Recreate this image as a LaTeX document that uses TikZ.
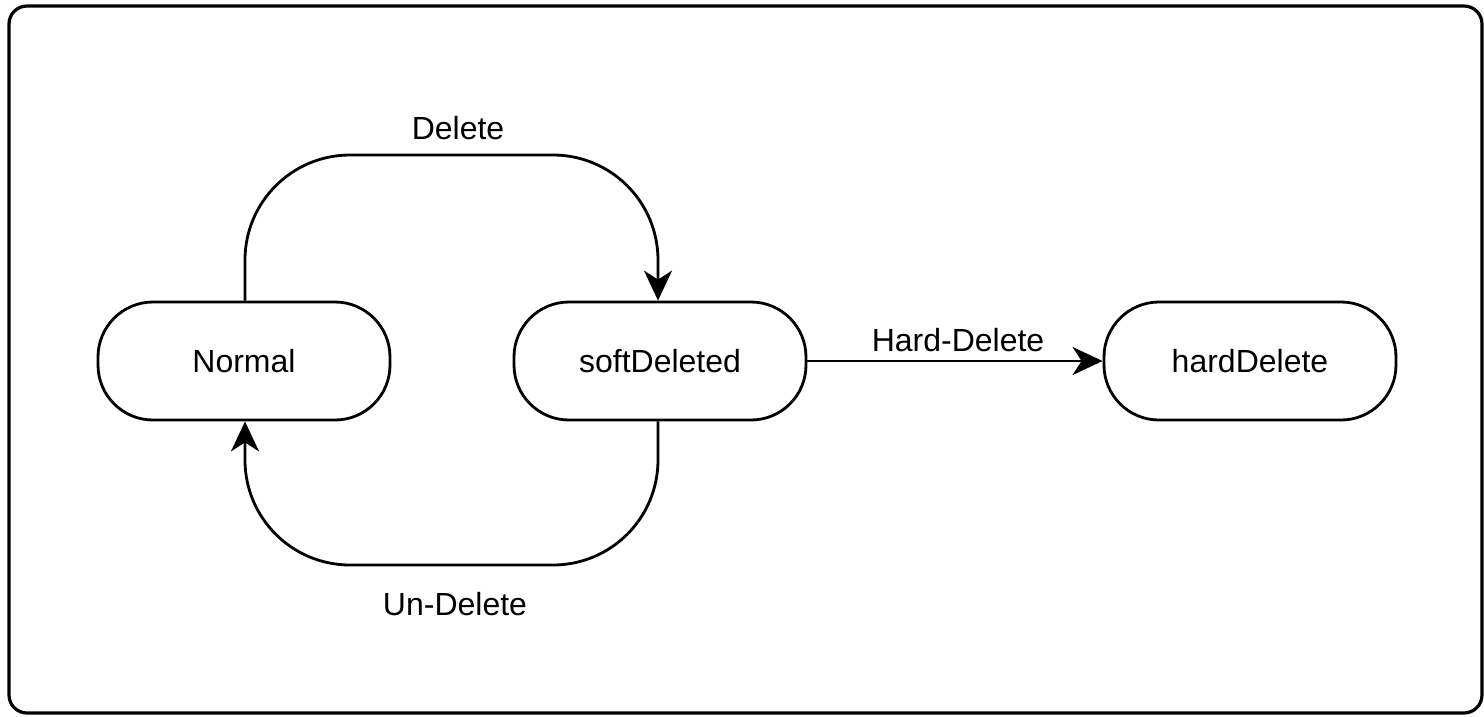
\documentclass[tikz,border=0pt]{standalone}
\usepackage{fontspec}
\setmainfont{Liberation Sans}
\usetikzlibrary{arrows.meta}
\begin{document}
\begin{tikzpicture}[x=1pt,y=-1pt,
  state/.style={draw,line width=2.8pt,rounded corners=55pt,minimum width=292pt,minimum height=118pt,inner sep=0pt,font=\fontsize{32}{38}\selectfont},
  lbl/.style={font=\fontsize{32}{38}\selectfont,inner sep=0pt},
  conn/.style={line width=2.8pt,-{Stealth[length=30pt,width=28pt,inset=9pt]}}]
\useasboundingbox (0,0) rectangle (1484,716);
\draw[line width=3.2pt,rounded corners=18pt] (9,6) rectangle (1482,713);
\node[state] (normal) at (244,361) {Normal};
\node[state] (soft) at (660,361) {softDeleted};
\node[state] (hard) at (1250,361) {hardDelete};
\draw[conn,rounded corners=105pt] (normal.north west -| 245,0) |- (658,155) -- (soft.north west -| 658,0);
\draw[conn,rounded corners=105pt] (soft.south west -| 658,0) |- (245,565) -- (normal.south west -| 245,0);
\draw[conn] (soft.east) -- (hard.west);
\node[lbl] (ldel) at (458,128) {Delete};
\node[lbl] (lundel) at (455,604) {Un-Delete};
\node[lbl] (lhard) at (958,340) {Hard-Delete};
\end{tikzpicture}
\end{document}
